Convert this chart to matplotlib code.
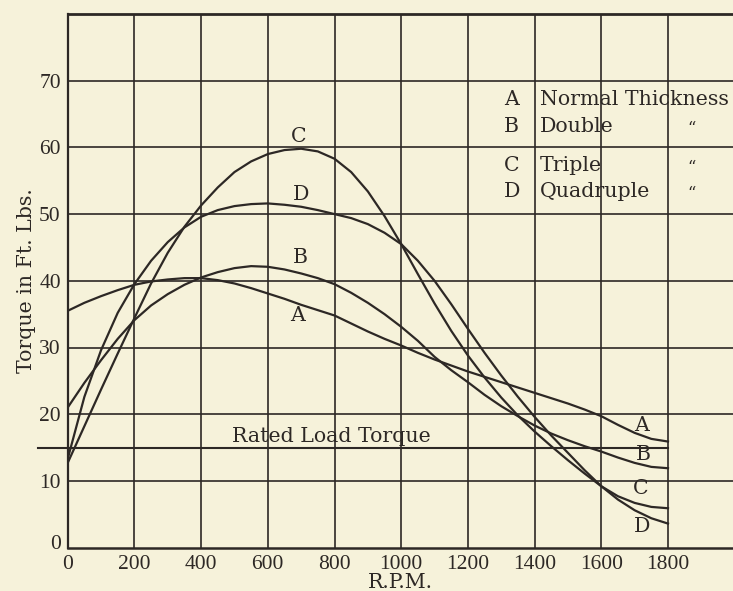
import matplotlib
matplotlib.use("Agg")
import matplotlib.pyplot as plt
import matplotlib.transforms as mtransforms

# ---------------- data ----------------
rpm = [0, 50, 100, 150, 200, 250, 300, 350, 400, 450, 500, 550, 600, 650, 700,
       750, 800, 850, 900, 950, 1000, 1050, 1100, 1150, 1200, 1250, 1300, 1350,
       1400, 1450, 1500, 1550, 1600, 1650, 1700, 1750, 1800]

torque_a = [35.5, 36.7, 37.7, 38.6, 39.4, 39.9, 40.2, 40.4, 40.4, 40.1, 39.6, 38.9,
            38.1, 37.3, 36.4, 35.6, 34.8, 33.6, 32.4, 31.3, 30.3, 29.2, 28.2, 27.3,
            26.4, 25.6, 24.8, 24.0, 23.2, 22.4, 21.6, 20.7, 19.7, 18.4, 17.2, 16.3, 15.9]

torque_b = [21.0, 24.7, 28.1, 31.3, 34.1, 36.3, 38.0, 39.4, 40.5, 41.3, 41.9, 42.2,
            42.1, 41.7, 41.1, 40.4, 39.5, 38.2, 36.7, 35.0, 33.1, 31.0, 28.6, 26.6,
            24.8, 22.9, 21.2, 19.7, 18.3, 17.1, 16.1, 15.2, 14.4, 13.5, 12.7, 12.1, 11.9]

torque_c = [12.7, 18.2, 23.7, 29.1, 34.4, 39.6, 44.2, 48.1, 51.3, 54.0, 56.3, 57.9,
            59.0, 59.6, 59.8, 59.4, 58.3, 56.3, 53.4, 49.7, 45.5, 41.0, 36.6, 32.5,
            28.8, 25.5, 22.5, 19.8, 17.4, 15.2, 13.1, 11.1, 9.2, 7.7, 6.7, 6.1, 5.9]

torque_d = [13.3, 22.6, 29.6, 35.2, 39.5, 43.0, 45.8, 48.0, 49.6, 50.6, 51.2, 51.5,
            51.6, 51.4, 51.1, 50.6, 50.0, 49.4, 48.5, 47.2, 45.5, 43.0, 40.0, 36.5,
            32.8, 29.2, 25.8, 22.6, 19.6, 16.8, 14.2, 11.6, 9.2, 7.2, 5.6, 4.4, 3.6]

curve_letters = ["A", "B", "C", "D"]
legend_names = ["Normal Thickness", "Double", "Triple", "Quadruple"]
rated_load_torque = 15
x_ticks = [0, 200, 400, 600, 800, 1000, 1200, 1400, 1600, 1800]
y_ticks = [0, 10, 20, 30, 40, 50, 60, 70]

# ---------------- style ----------------
BG = "#f6f2da"
INK = "#2d2825"
TXT_FONT = "DejaVu Serif"
NUM_FONT = "Liberation Serif"
TXT_SIZE = 14.8
NUM_SIZE = 15.5

fig = plt.figure(figsize=(7.33, 5.91), dpi=100, facecolor=BG)
ax = fig.add_axes([67.7 / 733, 1 - 547.6 / 591, (734.7 - 67.7) / 733, (547.6 - 14) / 591])
ax.set_facecolor(BG)
ax.set_xlim(0, 2000)
ax.set_ylim(0, 80)

# grid
for xv in range(200, 2000, 200):
    ax.axvline(xv, color=INK, lw=1.2, zorder=1)
for yv in range(10, 80, 10):
    ax.axhline(yv, color=INK, lw=1.2, zorder=1)

ax.spines["right"].set_visible(False)
ax.spines["left"].set_color(INK)
ax.spines["left"].set_linewidth(1.6)
ax.spines["bottom"].set_color(INK)
ax.spines["bottom"].set_linewidth(1.8)
ax.spines["top"].set_color(INK)
ax.spines["top"].set_linewidth(2.0)

# curves
for series in [torque_a, torque_b, torque_c, torque_d]:
    ax.plot(rpm, series, color=INK, lw=1.6, zorder=3, solid_joinstyle="round")

# rated load line (starts left of the axis)
ax.plot([-90, rpm[-1]], [rated_load_torque, rated_load_torque], color=INK, lw=1.5,
        clip_on=False, zorder=2)
ax.text(790, 16.6, "Rated Load Torque", family=TXT_FONT, fontsize=TXT_SIZE,
        color=INK, ha="center", va="center")

# curve labels near peaks and at the right ends
peak_label_pos = [(688, 34.8), (697, 43.5), (694, 61.6), (699, 53.0)]
end_label_pos = [(1721, 18.35), (1726, 14.0), (1718, 8.9), (1721, 3.1)]
for letter, (px, py), (ex, ey) in zip(curve_letters, peak_label_pos, end_label_pos):
    ax.text(px, py, letter, family=TXT_FONT, fontsize=TXT_SIZE, color=INK,
            ha="center", va="center", zorder=4)
    ax.text(ex, ey, letter, family=TXT_FONT, fontsize=TXT_SIZE, color=INK,
            ha="center", va="center", zorder=4)

# legend block
legend_rows = [67.15, 63.1, 57.3, 53.4]
for i, (letter, name, ry) in enumerate(zip(curve_letters, legend_names, legend_rows)):
    ax.text(1331, ry, letter, family=TXT_FONT, fontsize=TXT_SIZE, color=INK,
            ha="center", va="center")
    ax.text(1416, ry, name, family=TXT_FONT, fontsize=TXT_SIZE, color=INK,
            ha="left", va="center", clip_on=False)
    if i > 0:
        ax.text(1872, ry - 0.3, "\u201c", family=TXT_FONT, fontsize=TXT_SIZE * 0.8,
                color=INK, ha="center", va="center")

# ticks
ax.set_xticks(x_ticks)
ax.set_xticklabels([str(v) for v in x_ticks], family=NUM_FONT, fontsize=NUM_SIZE, color=INK)
ax.set_yticks(y_ticks)
ax.set_yticklabels([str(v) for v in y_ticks], family=NUM_FONT, fontsize=NUM_SIZE, color=INK)
ax.tick_params(axis="both", length=0)
ax.tick_params(axis="x", pad=5)
ax.tick_params(axis="y", pad=5)
zero_lbl = ax.get_yticklabels()[0]
zero_lbl.set_transform(zero_lbl.get_transform() +
                       mtransforms.ScaledTranslation(0, 6 / 100, fig.dpi_scale_trans))

fig.text(400 / 733, 1 - 582.5 / 591, "R.P.M.", family=TXT_FONT, fontsize=TXT_SIZE,
         color=INK, ha="center", va="center")
fig.text(27 / 733, 1 - 281 / 591, "Torque in Ft. Lbs.", family=TXT_FONT,
         fontsize=TXT_SIZE, color=INK, ha="center", va="center", rotation=90)

fig.savefig("out.png", dpi=100, facecolor=BG)
